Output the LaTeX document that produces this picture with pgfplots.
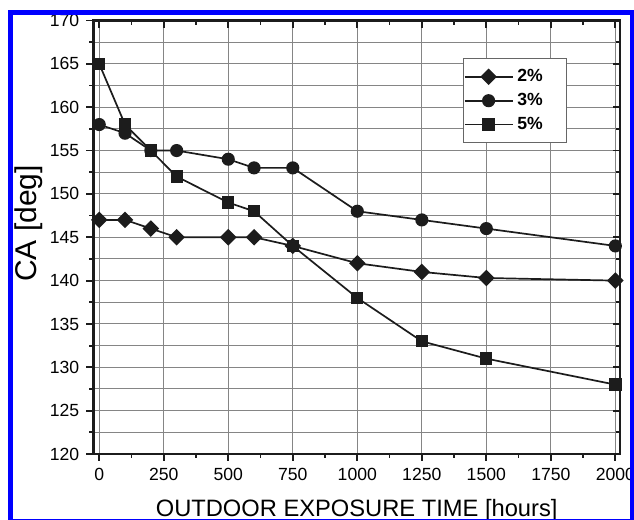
\documentclass[border=0pt]{standalone}
\usepackage{pgfplots}
\pgfplotsset{compat=1.18}
\usepackage{fontspec}
\setmainfont{Liberation Sans}
\definecolor{ink}{HTML}{1C1C1C}
\definecolor{gridc}{HTML}{858585}
\definecolor{frameblue}{HTML}{0000FF}
\begin{document}
\begin{tikzpicture}
\useasboundingbox (0,0) rectangle (317pt,260pt);
\fill[white] (0,0) rectangle (317pt,260pt);
\begin{axis}[
  at={(46.65pt,33pt)}, anchor=south west,
  scale only axis, width=263.35pt, height=216.75pt,
  xmin=-23, xmax=2018, ymin=120, ymax=170,
  xtick={0,250,...,2000}, minor x tick num=1,
  ytick={120,125,...,170}, minor y tick num=1,
  tick pos=left, tick align=outside,
  major tick length=3.5pt, minor tick length=2pt,
  every tick/.style={ink, line width=0.9pt},
  axis line style={ink, line width=1.2pt},
  xmajorgrids, ymajorgrids, yminorgrids,
  grid style={gridc, line width=0.5pt},
  minor grid style={gridc, line width=0.5pt},
  scaled ticks=false,
  tick label style={font=\fontsize{8.8}{10}\selectfont},
  xlabel={OUTDOOR EXPOSURE TIME [hours]},
  ylabel={CA [deg]},
  xlabel style={font=\fontsize{11.85}{14}\selectfont, at={(axis description cs:0.5,-0.1442)}, anchor=base},
  ylabel style={font=\fontsize{15}{18}\selectfont, at={(axis description cs:-0.108,0.532)}, anchor=base},
  clip mode=individual,
  legend style={at={(axis description cs:0.7025,0.9128)}, anchor=north west,
    draw=gray!80!black, line width=0.45pt, fill=white,
    font=\bfseries\fontsize{8.8}{9.5}\selectfont,
    inner xsep=0pt, inner ysep=3.2pt, row sep=0.3pt},
  legend cell align=left,
  legend image code/.code={\draw[mark repeat=2,mark phase=2,#1] plot coordinates {(0pt,0pt) (12pt,0pt) (24pt,0pt)};},
  /pgf/number format/1000 sep={},
  /pgf/number format/assume math mode=true,
]
\addplot[ink, line width=0.85pt, mark=square*, mark size=2.5pt, mark options={rotate=45, fill=ink, draw=ink}]
  coordinates {(0,147)(100,147)(200,146)(300,145)(500,145)(600,145)(750,144)(1000,142)(1250,141)(1500,140.3)(2000,140)};
\addlegendentry{\makebox[22.5pt][l]{2\%}}
\addplot[ink, line width=0.85pt, mark=*, mark size=2.85pt, mark options={fill=ink, draw=ink}]
  coordinates {(0,158)(100,157)(200,155)(300,155)(500,154)(600,153)(750,153)(1000,148)(1250,147)(1500,146)(2000,144)};
\addlegendentry{\makebox[22.5pt][l]{3\%}}
\addplot[ink, line width=0.85pt, mark=square*, mark size=2.65pt, mark options={fill=ink, draw=ink}]
  coordinates {(0,165)(100,158)(200,155)(300,152)(500,149)(600,148)(750,144)(1000,138)(1250,133)(1500,131)(2000,128)};
\addlegendentry{\makebox[22.5pt][l]{5\%}}
\end{axis}
\begin{axis}[
  at={(46.65pt,33pt)}, anchor=south west,
  scale only axis, width=263.35pt, height=216.75pt,
  xmin=-23, xmax=2018, ymin=120, ymax=170,
  xtick={0,250,...,2000}, minor x tick num=1,
  ytick={120,125,...,170}, minor y tick num=1,
  tick pos=right, tick align=inside,
  major tick length=3.5pt, minor tick length=2pt,
  every tick/.style={ink, line width=0.9pt},
  axis line style={ink, line width=1.2pt},
  xticklabels={}, yticklabels={},
]
\end{axis}
\draw[frameblue, line width=2.5pt] (5.4pt,-0.75pt) rectangle (316.25pt,253.75pt);
\end{tikzpicture}
\end{document}
